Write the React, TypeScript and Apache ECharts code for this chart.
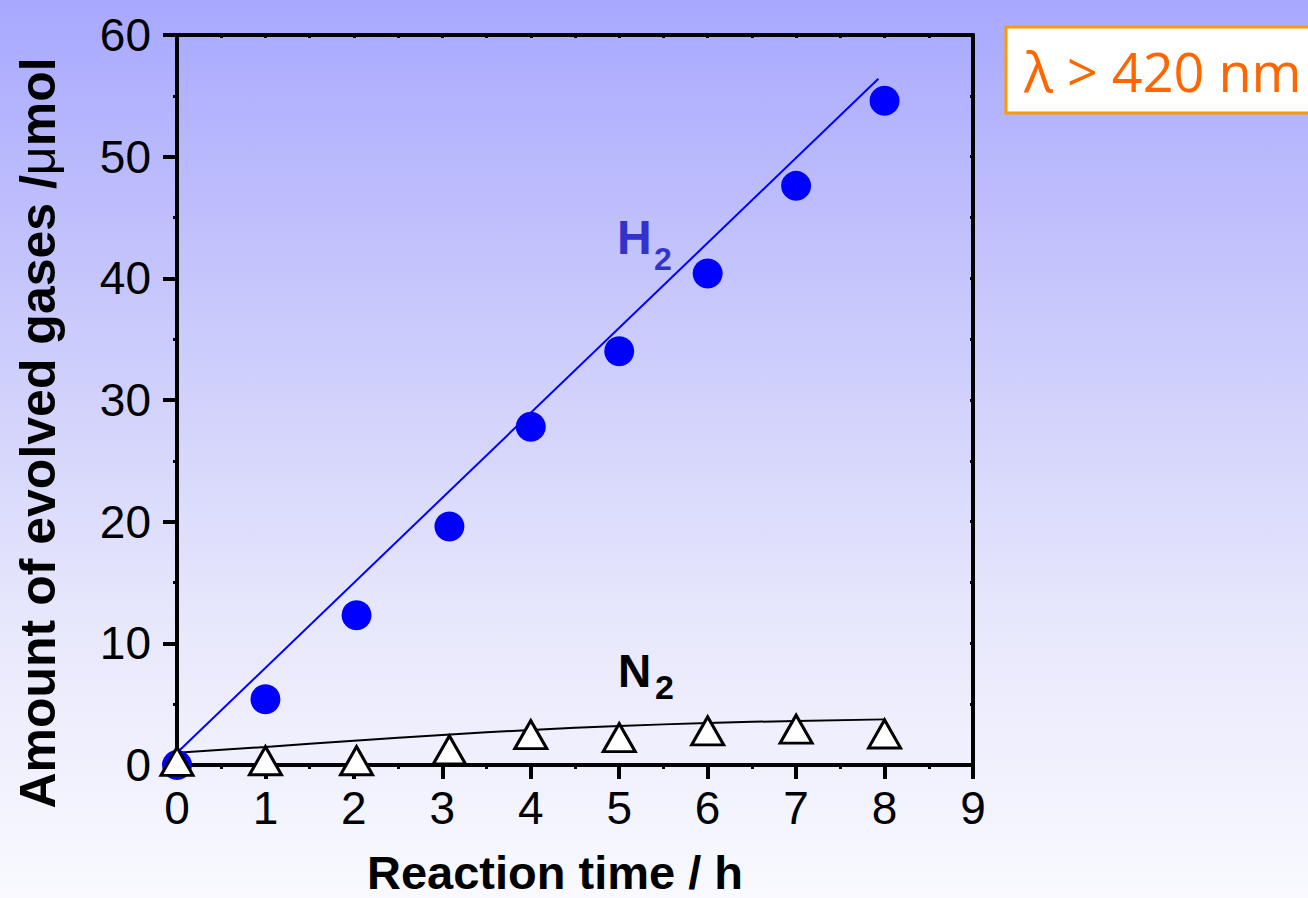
import React, { useEffect, useRef } from "react";
import * as echarts from "echarts";

const hours = [0, 1, 2.03, 3.08, 4, 5, 6, 7, 8];
const h2Values = [0, 5.4, 12.3, 19.6, 27.8, 34.0, 40.4, 47.6, 54.6];
const n2Values = [0.3, 0.35, 0.35, 1.25, 2.5, 2.25, 2.8, 2.95, 2.55];
const h2FitX = [0, 7.93];
const h2FitY = [1.0, 56.4];
const n2FitX = [0, 1, 2, 3, 4, 5, 6, 7, 8];
const n2FitY = [1.0, 1.48, 2.0, 2.47, 2.88, 3.2, 3.45, 3.62, 3.75];
const xTicks = [0, 9, 1];
const yTicks = [0, 60, 10];

const FONT = "'Liberation Sans', Arial, sans-serif";

export default function App() {
  const ref = useRef<HTMLDivElement>(null);
  useEffect(() => {
    if (!ref.current) return;
    const chart = echarts.init(ref.current, null, { renderer: "svg" });
    const axisLineStyle = { color: "#000", width: 4 };
    chart.setOption({
      animation: false,
      backgroundColor: new echarts.graphic.LinearGradient(0, 0, 0, 1, [
        { offset: 0, color: "#A8A8FF" },
        { offset: 0.35, color: "#C9C9FC" },
        { offset: 0.7, color: "#E8E8FC" },
        { offset: 1, color: "#F9F9FF" },
      ]),
      grid: { left: 177, right: 335, top: 35, bottom: 133, containLabel: false },
      xAxis: [
        {
          type: "value",
          position: "bottom",
          min: xTicks[0],
          max: xTicks[1],
          interval: xTicks[2],
          axisLine: { show: true, onZero: false, lineStyle: axisLineStyle },
          axisTick: { show: true, inside: false, length: 14, lineStyle: { color: "#000", width: 4 } },
          minorTick: { show: true, splitNumber: 2, length: 4, lineStyle: { color: "#000", width: 3 } },
          splitLine: { show: false },
          axisLabel: { color: "#000", fontSize: 46, fontFamily: FONT, margin: 20 },
        },
        {
          type: "value",
          position: "top",
          min: xTicks[0],
          max: xTicks[1],
          interval: xTicks[2],
          axisLine: { show: true, onZero: false, lineStyle: axisLineStyle },
          axisTick: { show: true, inside: true, length: 3, lineStyle: { color: "#000", width: 3 } },
          minorTick: { show: true, splitNumber: 2, length: 3, lineStyle: { color: "#000", width: 3 } },
          splitLine: { show: false },
          axisLabel: { show: false },
        },
      ],
      yAxis: [
        {
          type: "value",
          position: "left",
          min: yTicks[0],
          max: yTicks[1],
          interval: yTicks[2],
          axisLine: { show: true, onZero: false, lineStyle: axisLineStyle },
          axisTick: { show: true, inside: false, length: 14, lineStyle: { color: "#000", width: 4 } },
          minorTick: { show: true, splitNumber: 2, length: 4, lineStyle: { color: "#000", width: 3 } },
          splitLine: { show: false },
          axisLabel: { color: "#000", fontSize: 46, fontFamily: FONT, margin: 26 },
        },
        {
          type: "value",
          position: "right",
          min: yTicks[0],
          max: yTicks[1],
          interval: yTicks[2],
          axisLine: { show: true, onZero: false, lineStyle: axisLineStyle },
          axisTick: { show: true, inside: true, length: 3, lineStyle: { color: "#000", width: 3 } },
          minorTick: { show: true, splitNumber: 2, length: 3, lineStyle: { color: "#000", width: 3 } },
          splitLine: { show: false },
          axisLabel: { show: false },
        },
      ],
      series: [
        {
          name: "H2 fit",
          type: "line",
          data: h2FitX.map((x, i) => [x, h2FitY[i]]),
          showSymbol: false,
          lineStyle: { color: "#0000FF", width: 2 },
          z: 2,
        },
        {
          name: "N2 fit",
          type: "line",
          smooth: true,
          data: n2FitX.map((x, i) => [x, n2FitY[i]]),
          showSymbol: false,
          lineStyle: { color: "#000", width: 2 },
          z: 2,
        },
        {
          name: "H2",
          type: "scatter",
          data: hours.map((x, i) => [x, h2Values[i]]),
          symbol: "circle",
          symbolSize: 30,
          itemStyle: { color: "#0000FF", opacity: 1 },
          z: 3,
        },
        {
          name: "N2",
          type: "scatter",
          data: hours.map((x, i) => [x, n2Values[i]]),
          symbol: "triangle",
          symbolSize: [32, 28],
          itemStyle: { color: "#FFFFFF", borderColor: "#000", borderWidth: 3, opacity: 1 },
          z: 4,
        },
      ],
      graphic: [
        {
          type: "rect",
          shape: { x: 1006, y: 27, width: 330, height: 86 },
          style: { fill: "#FFFFFF", stroke: "#FF9900", lineWidth: 3 },
        },
        {
          type: "text",
          x: 1024,
          y: 71,
          style: {
            text: "λ > 420 nm",
            fill: "#FF6600",
            fontSize: 54,
            fontFamily: "'Open Sans', 'DejaVu Sans', sans-serif",
            verticalAlign: "middle",
            align: "left",
          },
        },
        {
          type: "text",
          x: 617,
          y: 237,
          style: { text: "H", fill: "#3333CC", fontSize: 48, fontWeight: "bold", fontFamily: FONT, verticalAlign: "middle", align: "left" },
        },
        {
          type: "text",
          x: 654,
          y: 259,
          style: { text: "2", fill: "#3333CC", fontSize: 32, fontWeight: "bold", fontFamily: FONT, verticalAlign: "middle", align: "left" },
        },
        {
          type: "text",
          x: 618,
          y: 671,
          style: { text: "N", fill: "#000", fontSize: 46, fontWeight: "bold", fontFamily: FONT, verticalAlign: "middle", align: "left" },
        },
        {
          type: "text",
          x: 655,
          y: 687,
          style: { text: "2", fill: "#000", fontSize: 34, fontWeight: "bold", fontFamily: FONT, verticalAlign: "middle", align: "left" },
        },
        {
          type: "text",
          x: 555,
          y: 872,
          style: {
            text: "Reaction time / h",
            fill: "#000",
            fontSize: 47,
            lineHeight: 40,
            fontWeight: "bold",
            fontFamily: FONT,
            verticalAlign: "middle",
            align: "center",
          },
        },
        {
          type: "text",
          x: 38,
          y: 433,
          rotation: Math.PI / 2,
          style: {
            text: "{b|Amount of evolved gases /}{r|μ}{b|mol}",
            fill: "#000",
            verticalAlign: "middle",
            align: "center",
            rich: {
              b: { fontSize: 50, fontWeight: "bold", fontFamily: FONT, fill: "#000" },
              r: { fontSize: 50, fontWeight: "normal", fontFamily: FONT, fill: "#000" },
            },
          },
        },
      ],
    });
    return () => chart.dispose();
  }, []);
  return (
    <div
      ref={ref}
      style={{ position: "absolute", left: 0, top: 0, width: 1308, height: 898 }}
    />
  );
}
